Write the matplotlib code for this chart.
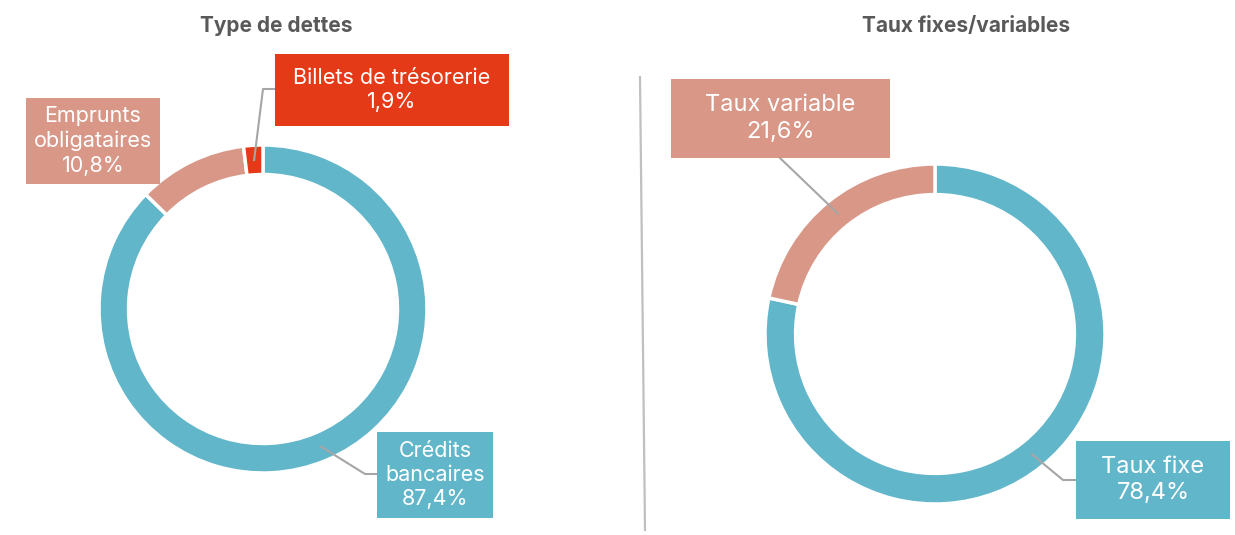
import numpy as np
import matplotlib
matplotlib.use("Agg")
import matplotlib.pyplot as plt
from matplotlib.patches import Rectangle
from matplotlib.lines import Line2D
from matplotlib.transforms import IdentityTransform

plt.rcParams['font.family'] = ['Inter', 'DejaVu Sans']

# data
debt_labels = ["Crédits\nbancaires", "Emprunts\nobligataires", "Billets de trésorerie"]
debt_values = [87.4, 10.8, 1.9]
rate_labels = ["Taux fixe", "Taux variable"]
rate_values = [78.4, 21.6]

BLUE, SALMON, RED = "#62B6CA", "#D89787", "#E53A17"
debt_colors = [BLUE, SALMON, RED]
rate_colors = [BLUE, SALMON]

W, H = 1235, 535
fig = plt.figure(figsize=(W / 100, H / 100), dpi=100)
pix = IdentityTransform()


def donut(cx, cy, r, values, colors):
    # cx, cy in pixels from top-left
    ax = fig.add_axes([(cx - r) / W, (H - cy - r) / H, 2 * r / W, 2 * r / H])
    wedges, _ = ax.pie(values, colors=colors, startangle=90, counterclock=False,
                       radius=1, wedgeprops=dict(width=0.18, edgecolor="white", linewidth=2.5))
    ax.set_xlim(-1, 1)
    ax.set_ylim(-1, 1)
    ax.set_aspect("equal")
    ax.axis("off")
    return ax, wedges


def label(ax, wedge, text, value, box, color, size, elbow=None, leader=True):
    x0, y0, x1, y1 = box
    fig.add_artist(Rectangle((x0, H - y1), x1 - x0, y1 - y0, transform=pix,
                             facecolor=color, edgecolor="none", zorder=3))
    txt = text + "\n" + f"{value:.1f}".replace(".", ",") + "%"
    fig.text((x0 + x1) / 2 / W, 1 - (y0 + y1) / 2 / H, txt, ha="center", va="center",
             color="white", fontsize=size, linespacing=1.28, zorder=4)
    if not leader:
        return
    ang = np.deg2rad((wedge.theta1 + wedge.theta2) / 2)
    sx, sy = ax.transData.transform((0.91 * np.cos(ang), 0.91 * np.sin(ang)))
    xs = [sx] + [p[0] for p in elbow]
    ys = [sy] + [H - p[1] for p in elbow]
    fig.add_artist(Line2D(xs, ys, transform=pix, color="#A6A6A6", linewidth=1.5, zorder=2))


ax1, w1 = donut(263, 309, 164, debt_values, debt_colors)
ax2, w2 = donut(935, 334, 170, rate_values, rate_colors)

label(ax1, w1[0], debt_labels[0], debt_values[0], (377, 432, 493, 518), BLUE, 15.5,
      elbow=[(365, 474), (377, 474)])
label(ax1, w1[1], debt_labels[1], debt_values[1], (26, 98, 160, 184), SALMON, 15.5, leader=False)
label(ax1, w1[2], debt_labels[2], debt_values[2], (275, 54, 509, 126), RED, 15.5,
      elbow=[(263, 89), (275, 89)])
label(ax2, w2[0], rate_labels[0], rate_values[0], (1076, 441, 1230, 519), BLUE, 17,
      elbow=[(1063, 480), (1076, 480)])
label(ax2, w2[1], rate_labels[1], rate_values[1], (671, 79, 890, 158), SALMON, 17,
      elbow=[(780, 158)])

# separator
fig.add_artist(Line2D([640, 645], [H - 77, H - 530], transform=pix, color="#C0C0C0", linewidth=1.6))

fig.text(276 / W, 1 - 26 / H, "Type de dettes", ha="center", va="center",
         fontsize=15, fontweight="bold", color="#595959")
fig.text(966 / W, 1 - 26 / H, "Taux fixes/variables", ha="center", va="center",
         fontsize=15, fontweight="bold", color="#595959")

fig.savefig("out.png", dpi=100, facecolor="white")
